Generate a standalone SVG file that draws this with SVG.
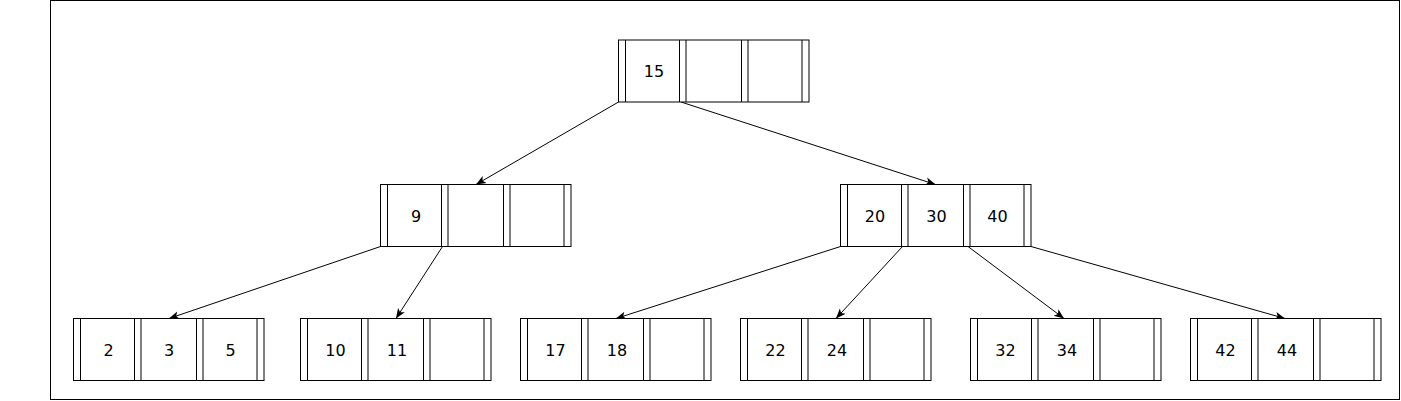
<svg xmlns="http://www.w3.org/2000/svg" xmlns:xlink="http://www.w3.org/1999/xlink" width="1401" height="401" viewBox="0 0 1401 401">
<style>
.frame{fill:#fff;stroke:#000;stroke-width:1}
.box{fill:#fff;stroke:#000;stroke-width:1}
.ln{stroke:#000;stroke-width:1;fill:none}
.t{font-family:"DejaVu Sans",Verdana,sans-serif;font-size:16px;fill:#000;text-anchor:middle}
.edge{stroke:#000;stroke-width:1;fill:none;marker-end:url(#arr)}
</style>
<defs>
<marker id="arr" markerUnits="userSpaceOnUse" markerWidth="10" markerHeight="10" viewBox="0 0 10 10" refX="10" refY="5" orient="auto">
<path d="M0,1 L10,5 L0,9 L2.5,5 z" fill="#000"/>
</marker>
<g id="bn">
<rect class="box" x="0.5" y="0.5" width="190.5" height="62"/>
<path class="ln" d="M7.5,0.5V62.5M61.5,0.5V62.5M68,0.5V62.5M123.5,0.5V62.5M130,0.5V62.5M184,0.5V62.5"/>
</g>
</defs>
<rect class="frame" x="50.5" y="0.5" width="1349" height="399"/>
<g id="connectors">
<line class="edge" x1="618.5" y1="102" x2="476" y2="184.5"/>
<line class="edge" x1="681" y1="102" x2="935.5" y2="184.5"/>
<line class="edge" x1="380.5" y1="246.5" x2="169" y2="318.5"/>
<line class="edge" x1="442.5" y1="246.5" x2="396" y2="318.5"/>
<line class="edge" x1="840.5" y1="246.5" x2="616" y2="318.5"/>
<line class="edge" x1="902.5" y1="246.5" x2="836" y2="318.5"/>
<line class="edge" x1="968" y1="246.5" x2="1064" y2="318.5"/>
<line class="edge" x1="1031" y1="246.5" x2="1285" y2="318.5"/>
</g>
<g id="root">
<use xlink:href="#bn" x="618" y="39.5"/>
<text class="t" x="654" y="77">15</text>
</g>
<g id="n9">
<use xlink:href="#bn" x="380" y="184"/>
<text class="t" x="416" y="221.5">9</text>
</g>
<g id="n20">
<use xlink:href="#bn" x="840" y="184"/>
<text class="t" x="875" y="221.5">20</text>
<text class="t" x="936.5" y="221.5">30</text>
<text class="t" x="997.5" y="221.5">40</text>
</g>
<g id="leaf2">
<use xlink:href="#bn" x="73" y="318"/>
<text class="t" x="108.5" y="355.5">2</text>
<text class="t" x="169" y="355.5">3</text>
<text class="t" x="230.5" y="355.5">5</text>
</g>
<g id="leaf10">
<use xlink:href="#bn" x="300" y="318"/>
<text class="t" x="335.5" y="355.5">10</text>
<text class="t" x="397" y="355.5">11</text>
</g>
<g id="leaf17">
<use xlink:href="#bn" x="520" y="318"/>
<text class="t" x="555.5" y="355.5">17</text>
<text class="t" x="617" y="355.5">18</text>
</g>
<g id="leaf22">
<use xlink:href="#bn" x="740" y="318"/>
<text class="t" x="775.5" y="355.5">22</text>
<text class="t" x="837" y="355.5">24</text>
</g>
<g id="leaf32">
<use xlink:href="#bn" x="970" y="318"/>
<text class="t" x="1005.5" y="355.5">32</text>
<text class="t" x="1067" y="355.5">34</text>
</g>
<g id="leaf42">
<use xlink:href="#bn" x="1190" y="318"/>
<text class="t" x="1225.5" y="355.5">42</text>
<text class="t" x="1287" y="355.5">44</text>
</g>
</svg>
